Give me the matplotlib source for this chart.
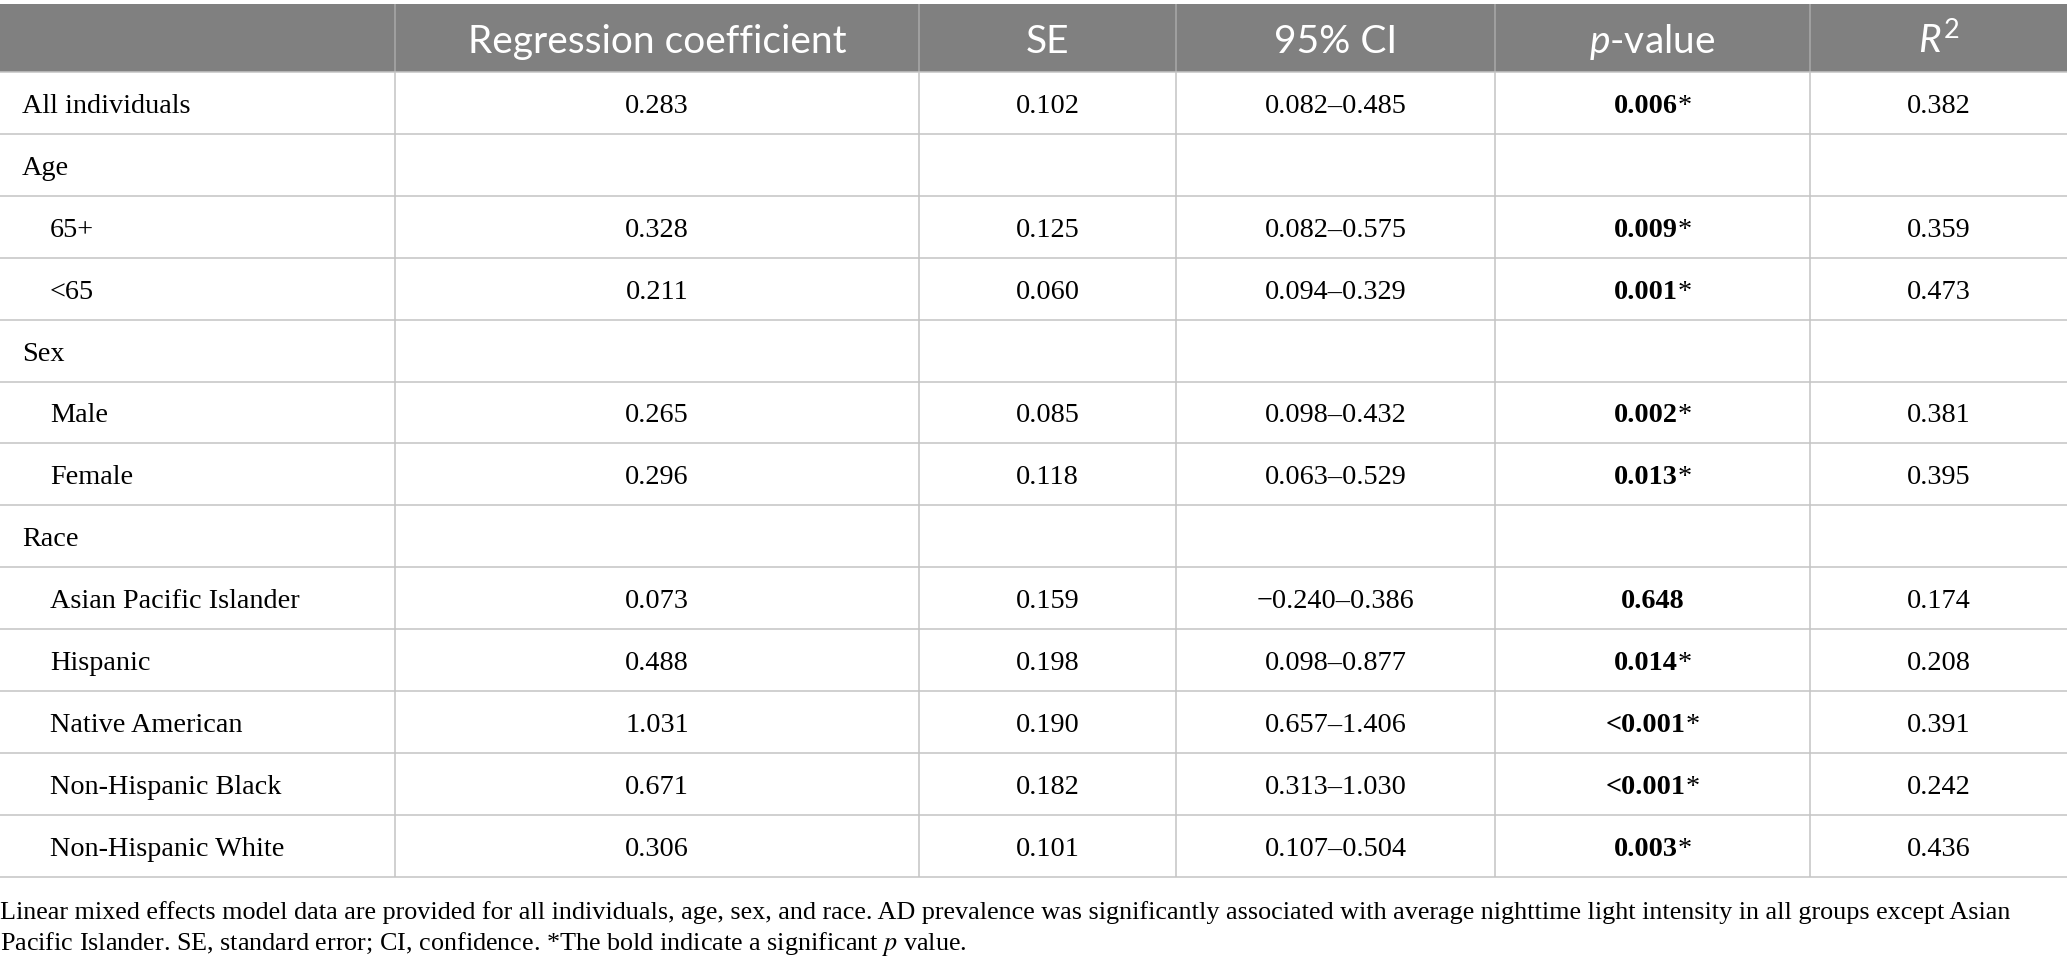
import matplotlib
matplotlib.use('Agg')
import matplotlib.pyplot as plt

# table contents
groups = ['All individuals', 'Age', '65+', '<65', 'Sex', 'Male', 'Female', 'Race',
          'Asian Pacific Islander', 'Hispanic', 'Native American',
          'Non-Hispanic Black', 'Non-Hispanic White']
indent = [False, False, True, True, False, True, True, False, True, True, True, True, True]
coef = ['0.283', '', '0.328', '0.211', '', '0.265', '0.296', '',
        '0.073', '0.488', '1.031', '0.671', '0.306']
se = ['0.102', '', '0.125', '0.060', '', '0.085', '0.118', '',
      '0.159', '0.198', '0.190', '0.182', '0.101']
ci = ['0.082\u20130.485', '', '0.082\u20130.575', '0.094\u20130.329', '',
      '0.098\u20130.432', '0.063\u20130.529', '',
      '\u22120.240\u20130.386', '0.098\u20130.877', '0.657\u20131.406',
      '0.313\u20131.030', '0.107\u20130.504']
pval = ['0.006', '', '0.009', '0.001', '', '0.002', '0.013', '',
        '0.648', '0.014', '<0.001', '<0.001', '0.003']
signif = [True, False, True, True, False, True, True, False,
          False, True, True, True, True]
r2 = ['0.382', '', '0.359', '0.473', '', '0.381', '0.395', '',
      '0.174', '0.208', '0.391', '0.242', '0.436']
headers = ['', 'Regression coefficient', 'SE', '95% CI', '$p$-value', '$R^2$']
footnote = ['Linear mixed effects model data are provided for all individuals, age, sex, and race. '
            'AD prevalence was significantly associated with average nighttime light intensity in all groups except Asian',
            'Pacific Islander. SE, standard error; CI, confidence. *The bold indicate a significant $p$ value.']

plt.rcParams['mathtext.fontset'] = 'custom'
plt.rcParams['mathtext.rm'] = 'Lato'
plt.rcParams['mathtext.it'] = 'Lato:italic'

W, H = 2067, 969
fig = plt.figure(figsize=(W / 100, H / 100), dpi=100)
ax = fig.add_axes([0, 0, 1, 1])
ax.set_xlim(0, W)
ax.set_ylim(H, 0)
ax.axis('off')

col_edges = [0, 395, 919, 1176, 1495, 1810, W]
head_top, head_bot = 4, 72
row_h = 61.9
n = len(groups)
table_bot = head_bot + row_h * n

serif = 'Liberation Serif'
body_fs = 20.3
head_fs = 28
foot_fs = 18.8

# header band
ax.fill_between([0, W], head_top, head_bot, color='#808080', lw=0)
ax.vlines(col_edges[1:-1], head_top, head_bot, color='#a9a9a9', lw=1.1)
for j, h in enumerate(headers):
    if h:
        xc = (col_edges[j] + col_edges[j + 1]) / 2
        ax.text(xc, 53, h, ha='center', va='baseline',
                color='white', fontsize=head_fs, family='Lato',
                math_fontfamily='custom')

# grid lines
ys = [head_bot + row_h * i for i in range(n + 1)]
ax.hlines(ys, 0, W, color='#c4c4c4', lw=1.1)
ax.vlines(col_edges[1:-1], head_bot, table_bot, color='#c4c4c4', lw=1.1)

renderer = fig.canvas.get_renderer()
for i in range(n):
    yb = head_bot + row_h * (i + 0.5) + 10
    x0 = 50 if indent[i] else 22
    ax.text(x0, yb, groups[i], ha='left', va='baseline', fontsize=body_fs, family=serif)
    for j, val in enumerate([coef[i], se[i], ci[i]]):
        xc = (col_edges[j + 1] + col_edges[j + 2]) / 2
        ax.text(xc, yb, val, ha='center', va='baseline', fontsize=body_fs, family=serif)
    xc = (col_edges[5] + col_edges[6]) / 2
    ax.text(xc, yb, r2[i], ha='center', va='baseline', fontsize=body_fs, family=serif)
    if pval[i]:
        xc = (col_edges[4] + col_edges[5]) / 2
        tb = ax.text(0, yb, pval[i], ha='left', va='baseline', fontsize=body_fs,
                     family=serif, fontweight='bold')
        wb = tb.get_window_extent(renderer).width
        if signif[i]:
            ta = ax.text(0, yb, '*', ha='left', va='baseline', fontsize=body_fs, family=serif)
            wa = ta.get_window_extent(renderer).width
            start = xc - (wb + wa) / 2
            tb.set_x(start)
            ta.set_x(start + wb)
        else:
            tb.set_x(xc - wb / 2)

for k, line in enumerate(footnote):
    ax.text(0, 919 + 31 * k, line, ha='left', va='baseline', fontsize=foot_fs,
            family=serif, math_fontfamily='stix')

fig.savefig('out.png', dpi=100)
